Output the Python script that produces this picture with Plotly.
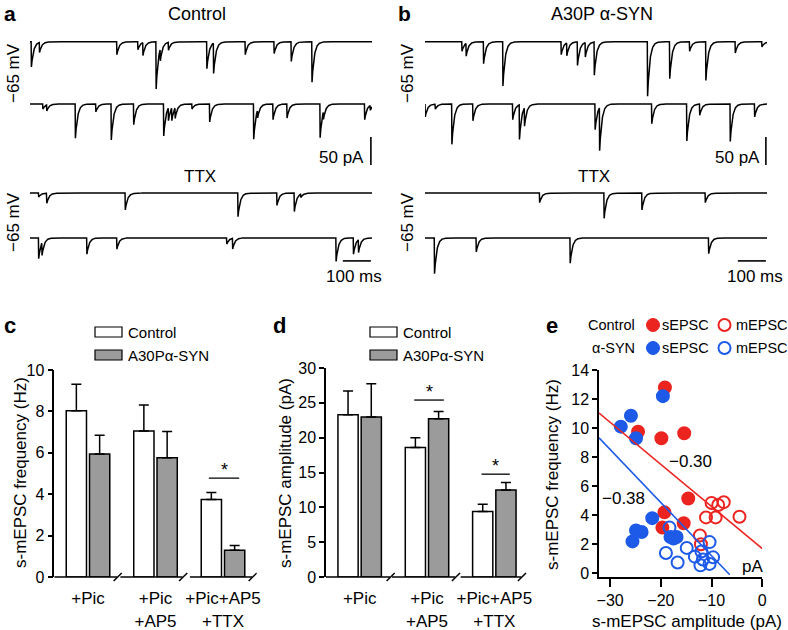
import numpy as np
import plotly.graph_objects as go

W, H = 788, 630
FONT = "Liberation Sans, Arial, Helvetica, sans-serif"
RED = "#ec2420"
BLUE = "#1d5ae8"
GRAY = "#9b9b9b"

# ---------------- data ----------------
# a / b : EPSC events per sweep (time in ms, amplitude in pA)
ctrl_s1_t = [4, 33, 309, 384, 402, 449, 464, 493, 630, 654, 767, 870, 931, 1005]
ctrl_s1_amp = [45, 18, 23, 14, 23, 84, 21, 14, 48, 54, 23, 21, 35, 72]
ctrl_s2_t = [45, 59, 161, 234, 289, 369, 476, 493, 505, 517, 577, 640, 797, 811, 866, 916, 1034, 1046, 1193, 1213]
ctrl_s2_amp = [9, 11, 61, 14, 64, 37, 57, 23, 23, 19, 9, 32, 63, 14, 28, 25, 60, 14, 28, 9]
ctrl_ttx1_t = [30, 59, 339, 741, 880, 942, 965]
ctrl_ttx1_amp = [7, 18, 30, 42, 22, 33, 6]
ctrl_ttx2_t = [30, 42, 202, 309, 701, 722, 1091, 1153, 1171]
ctrl_ttx2_amp = [37, 23, 29, 20, 11, 19, 42, 29, 23]

syn_s1_t = [131, 146, 208, 277, 485, 505, 543, 571, 603, 793, 872, 943, 1001, 1106, 1201]
syn_s1_amp = [17, 23, 39, 79, 23, 23, 42, 26, 59, 97, 66, 17, 69, 20, 9]
syn_s2_t = [0, 36, 95, 170, 312, 336, 354, 606, 622, 808, 933, 979, 1088, 1175]
syn_s2_amp = [23, 9, 72, 30, 28, 62, 33, 46, 77, 35, 66, 20, 67, 23]
syn_ttx1_t = [408, 638, 773, 999]
syn_ttx1_amp = [17, 45, 30, 17]
syn_ttx2_t = [33, 182, 517, 1011]
syn_ttx2_amp = [64, 25, 45, 28]

sweep_ms = 1220
scale_pa = 50
scale_ms = 100

# c / d : bar charts (mean and SEM)
conditions = ["+Pic", "+Pic<br>+AP5", "+Pic+AP5<br>+TTX"]
freq_control = [8.03, 7.05, 3.74]
freq_control_sem = [1.28, 1.26, 0.34]
freq_syn = [5.94, 5.76, 1.29]
freq_syn_sem = [0.91, 1.27, 0.23]
amp_control = [23.3, 18.6, 9.4]
amp_control_sem = [3.4, 1.4, 1.05]
amp_syn = [22.95, 22.7, 12.5]
amp_syn_sem = [4.8, 1.05, 1.05]

# e : frequency vs amplitude
ctrl_s_amp = [-19.2, -24.5, -19.9, -15.4, -14.6, -19.3, -19.7, -15.5]
ctrl_s_freq = [12.8, 9.75, 9.3, 9.65, 5.15, 4.2, 3.15, 3.45]
ctrl_m_amp = [-10.0, -8.7, -7.6, -11.1, -9.2, -4.5, -12.3, -12.1]
ctrl_m_freq = [4.85, 4.7, 4.9, 3.85, 3.85, 3.9, 2.6, 2.0]
syn_s_amp = [-19.6, -25.9, -27.9, -24.9, -21.7, -24.9, -23.8, -25.6, -18.1, -16.9, -17.5]
syn_s_freq = [12.2, 10.85, 10.1, 9.3, 3.8, 2.95, 2.85, 2.2, 2.5, 2.5, 2.4]
syn_m_amp = [-18.3, -19.0, -16.7, -14.9, -13.3, -12.0, -10.4, -11.7, -9.7, -12.2, -10.4]
syn_m_freq = [3.15, 1.4, 0.75, 1.75, 1.15, 1.5, 2.15, 0.95, 1.1, 0.55, 0.65]
ctrl_fit = [-0.29, 1.7]     # slope, intercept
syn_fit = [-0.366, -2.45]
ctrl_r_label = "\u22120.30"
syn_r_label = "\u22120.38"

# ---------------- helpers ----------------
def dx(a, b):
    return [a / W, b / W]

def dy(top, bottom):
    return [1 - bottom / H, 1 - top / H]

def px(x):
    return x / W

def py(y):
    return 1 - y / H

annotations = []
shapes = []

def ann(text, x, y, size=17, xanchor="center", yanchor="middle", angle=0, bold=False, color="black"):
    annotations.append(dict(
        text=f"<b>{text}</b>" if bold else text,
        x=px(x), y=py(y), xref="paper", yref="paper",
        xanchor=xanchor, yanchor=yanchor, textangle=angle, showarrow=False,
        font=dict(family=FONT, size=size, color=color)))

t = np.arange(0, sweep_ms + 0.5, 0.5)

def sweep(times, amps, tau=8.0, rise=1.0):
    y = np.zeros_like(t)
    for t0, a in zip(times, amps):
        d = t - t0
        k = np.where(d < 0, 0.0, np.where(d < rise, d / rise, np.exp(-(d - rise) / tau)))
        y -= a * k
    return y

fig = go.Figure()

offsets = [-30, -141, -300, -380]
panels_ab = [
    ("x", "y", [(ctrl_s1_t, ctrl_s1_amp), (ctrl_s2_t, ctrl_s2_amp), (ctrl_ttx1_t, ctrl_ttx1_amp), (ctrl_ttx2_t, ctrl_ttx2_amp)]),
    ("x2", "y2", [(syn_s1_t, syn_s1_amp), (syn_s2_t, syn_s2_amp), (syn_ttx1_t, syn_ttx1_amp), (syn_ttx2_t, syn_ttx2_amp)]),
]
for xa, ya, sweeps in panels_ab:
    for off, (tt, aa) in zip(offsets, sweeps):
        fig.add_trace(go.Scatter(x=t, y=off + sweep(tt, aa), mode="lines", xaxis=xa, yaxis=ya,
                                 line=dict(color="black", width=1.5), showlegend=False, hoverinfo="skip"))
    # scale bars
    shapes.append(dict(type="line", xref=xa, yref=ya, x0=sweep_ms - 4, x1=sweep_ms - 4,
                       y0=-200, y1=-200 - scale_pa, line=dict(color="black", width=1.6)))
    shapes.append(dict(type="line", xref=xa, yref=ya, x0=sweep_ms - 4 - scale_ms, x1=sweep_ms - 4,
                       y0=-421, y1=-421, line=dict(color="black", width=1.6)))

# ---------------- bars ----------------
def add_bars(xa, ya, ctrl, ctrl_sem, syn, syn_sem):
    for vals, sem, col, name in [(ctrl, ctrl_sem, "white", "Control"), (syn, syn_sem, GRAY, "A30P\u03b1-SYN")]:
        fig.add_trace(go.Bar(x=conditions, y=vals, name=name, xaxis=xa, yaxis=ya, showlegend=False,
                             marker=dict(color=col, line=dict(color="black", width=1.5)),
                             error_y=dict(type="data", array=sem, arrayminus=[0] * len(sem), symmetric=False,
                                          color="black", thickness=1.5, width=5)))

add_bars("x3", "y3", freq_control, freq_control_sem, freq_syn, freq_syn_sem)
add_bars("x4", "y4", amp_control, amp_control_sem, amp_syn, amp_syn_sem)

# broken x-axis segments with slashes (c and d)
for xa, seg_ends, y_px in [("x3", [(-0.5, 0.43), (0.48, 1.40), (1.51, 2.43)], 577),
                           ("x4", [(-0.5, 0.45), (0.48, 1.42), (1.50, 2.40)], 577)]:
    for a, b in seg_ends:
        shapes.append(dict(type="line", xref=xa, yref="paper", x0=a, x1=b, y0=py(y_px), y1=py(y_px),
                           line=dict(color="black", width=1.5)))
        shapes.append(dict(type="line", xref=xa, yref="paper", x0=b - 0.05, x1=b + 0.07,
                           y0=py(y_px + 4), y1=py(y_px - 4), line=dict(color="black", width=1.5)))

# significance markers
for xa, ya, x0, x1, yv in [("x3", "y3", 1.79, 2.24, 4.78), ("x4", "y4", 0.81, 1.25, 25.4), ("x4", "y4", 1.81, 2.23, 14.76)]:
    shapes.append(dict(type="line", xref=xa, yref=ya, x0=x0, x1=x1, y0=yv, y1=yv, line=dict(color="black", width=1.3)))
    annotations.append(dict(text="*", x=(x0 + x1) / 2, y=yv, xref=xa, yref=ya, showarrow=False,
                            yanchor="bottom", yshift=-4, font=dict(family=FONT, size=18, color="black")))

# legends c and d
for lx in [95, 370]:
    shapes.append(dict(type="rect", xref="paper", yref="paper", x0=px(lx), x1=px(lx + 27), y0=py(337), y1=py(327),
                       fillcolor="white", line=dict(color="black", width=1.2)))
    shapes.append(dict(type="rect", xref="paper", yref="paper", x0=px(lx), x1=px(lx + 27), y0=py(360), y1=py(350),
                       fillcolor=GRAY, line=dict(color="black", width=1.2)))
    ann("Control", lx + 31, 332, size=15, xanchor="left")
    ann("A30P\u03b1-SYN", lx + 31, 355, size=15, xanchor="left")

# ---------------- scatter e ----------------
for xs, ys, col, sym in [(ctrl_s_amp, ctrl_s_freq, RED, "circle"), (syn_s_amp, syn_s_freq, BLUE, "circle"),
                         (ctrl_m_amp, ctrl_m_freq, RED, "circle-open"), (syn_m_amp, syn_m_freq, BLUE, "circle-open")]:
    fig.add_trace(go.Scatter(x=xs, y=ys, mode="markers", xaxis="x5", yaxis="y5", showlegend=False,
                             marker=dict(color=col, size=12, symbol=sym, line=dict(color=col, width=2))))

XMIN = -32.2
for (m, b), col in [(ctrl_fit, RED), (syn_fit, BLUE)]:
    x_end = min(0.0, (-0.1 - b) / m)
    fig.add_trace(go.Scatter(x=[XMIN, x_end], y=[m * XMIN + b, m * x_end + b], mode="lines",
                             xaxis="x5", yaxis="y5", showlegend=False, line=dict(color=col, width=1.6)))

# e legend
for row_y, label, col in [(325, "Control", RED), (348, "\u03b1-SYN", BLUE)]:
    ann(label, 637, row_y, size=14.5, xanchor="right")
    shapes.append(dict(type="circle", xref="paper", yref="paper", x0=px(646.5), x1=px(659.5),
                       y0=py(row_y + 6.5), y1=py(row_y - 6.5), fillcolor=col, line=dict(color=col, width=1)))
    ann("sEPSC", 660, row_y, size=14.5, xanchor="left")
    shapes.append(dict(type="circle", xref="paper", yref="paper", x0=px(718.5), x1=px(730.5),
                       y0=py(row_y + 6), y1=py(row_y - 6), fillcolor="rgba(0,0,0,0)", line=dict(color=col, width=2)))
    ann("mEPSC", 734, row_y, size=14.5, xanchor="left")

ann(ctrl_r_label, 690, 462, size=17)
ann(syn_r_label, 623, 498, size=17)
ann("pA", 752, 566, size=17)

# ---------------- text ----------------
ann("a", 2, 0, size=21, xanchor="left", yanchor="top", bold=True)
ann("b", 396, 0, size=21, xanchor="left", yanchor="top", bold=True)
ann("c", 2, 325, size=22, xanchor="left", bold=True)
ann("d", 271, 325, size=22, xanchor="left", bold=True)
ann("e", 544, 325, size=22, xanchor="left", bold=True)

ann("Control", 197, 14, size=18)
ann("A30P \u03b1-SYN", 602, 14, size=18)
for x0 in [0, 394]:
    ann("TTX", x0 + 200, 176, size=17)
    ann("\u221265 mV", x0 + 13, 73, size=17, angle=-90)
    ann("\u221265 mV", x0 + 13, 222, size=17, angle=-90)
ann("50 pA", 366, 157, size=17, xanchor="right")
ann("50 pA", 762, 157, size=17, xanchor="right")
ann("100 ms", 354, 276, size=17)
ann("100 ms", 755, 276, size=17)

ann("s-mEPSC frequency (Hz)", 20, 473, size=17, angle=-90)
ann("s-mEPSC amplitude (pA)", 285, 473, size=17, angle=-90)
ann("s-mEPSC frequency (Hz)", 552, 475, size=17, angle=-90)
ann("s-mEPSC amplitude (pA)", 687, 621, size=17)

# ---------------- layout ----------------
hidden = dict(visible=False, showgrid=False, zeroline=False, automargin=False)
tickfont = dict(family=FONT, size=16, color="black")
yax_common = dict(showgrid=False, zeroline=False, showline=True, linecolor="black", linewidth=1.5,
                  ticks="outside", ticklen=5, tickwidth=1.5, tickcolor="black", tickfont=tickfont,
                  automargin=False)
xcat = dict(showgrid=False, zeroline=False, showline=False, ticks="outside", ticklen=6,
            tickcolor="rgba(0,0,0,0)", tickfont=dict(family=FONT, size=17, color="black"), range=[-0.5, 2.5],
            automargin=False)

fig.update_layout(
    template="none",
    width=W, height=H, margin=dict(l=0, r=0, t=0, b=0, pad=0), autosize=False,
    paper_bgcolor="white", plot_bgcolor="white",
    font=dict(family=FONT, color="black"),
    barmode="group", bargap=0.31, bargroupgap=0.13,
    xaxis=dict(domain=dx(30, 372), range=[0, sweep_ms], **hidden),
    yaxis=dict(domain=dy(25, 285), range=[-464, 0], **hidden),
    xaxis2=dict(domain=dx(425, 767), range=[0, sweep_ms], **hidden),
    yaxis2=dict(domain=dy(25, 285), range=[-464, 0], **hidden),
    xaxis3=dict(domain=dx(54.25, 256.75), anchor="y3", **xcat),
    yaxis3=dict(domain=dy(370, 577), range=[0, 10], dtick=2, anchor="x3", **yax_common),
    xaxis4=dict(domain=dx(326, 528), anchor="y4", **xcat),
    yaxis4=dict(domain=dy(368, 577), range=[0, 30], dtick=5, anchor="x4", **yax_common),
    xaxis5=dict(domain=dx(599, 762.3), range=[XMIN, 0], dtick=10, anchor="y5", automargin=False,
                showgrid=False, zeroline=False, showline=True, linecolor="black", linewidth=1.5,
                ticks="outside", ticklen=8, tickwidth=1.5, tickcolor="black", tickfont=tickfont),
    yaxis5=dict(domain=dy(370, 577.4), range=[-0.28, 14], dtick=2, anchor="x5", **yax_common),
    annotations=annotations, shapes=shapes,
)

fig.write_html("out.html", config={"displayModeBar": False},
               post_script="document.body.style.margin='0px';document.body.style.overflow='hidden';")
